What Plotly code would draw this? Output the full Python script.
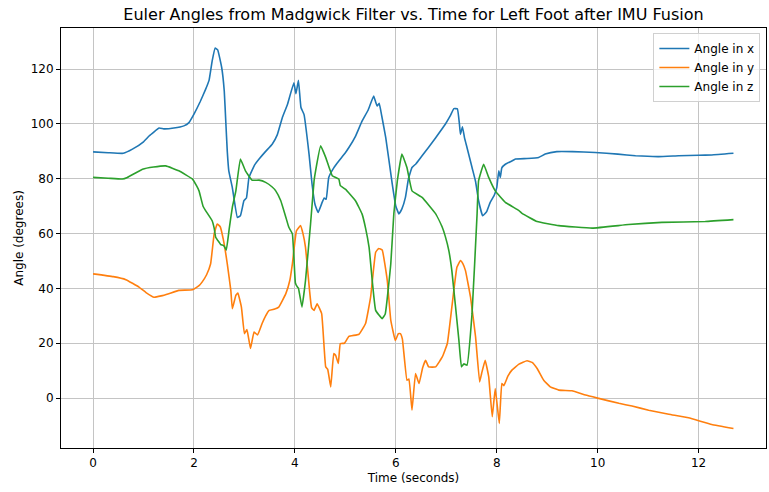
import plotly.graph_objects as go

# ---- data ----
t_x = [0, 0.3, 0.6, 0.78, 1.0, 1.11, 1.31, 1.4, 1.6, 1.8, 1.9, 2.0, 2.12, 2.23, 2.3, 2.36, 2.42, 2.47,
       2.55, 2.6, 2.63, 2.66, 2.69, 2.76, 2.86, 2.92, 2.99, 3.04, 3.09, 3.2, 3.29, 3.42, 3.55, 3.65,
       3.75, 3.85, 3.98, 4.02, 4.07, 4.12, 4.18, 4.28, 4.34, 4.40, 4.46, 4.54, 4.58, 4.62, 4.67, 4.77,
       4.87, 5.0, 5.07, 5.2, 5.33, 5.45, 5.56, 5.6, 5.63, 5.67, 5.72, 5.80, 5.93, 6.0, 6.06, 6.12,
       6.19, 6.25, 6.32, 6.4, 6.52, 6.65, 6.79, 6.98, 7.08, 7.15, 7.22, 7.26, 7.28, 7.32, 7.36, 7.41,
       7.51, 7.58, 7.64, 7.72, 7.8, 7.87, 7.95, 8.0, 8.04, 8.07, 8.1, 8.17, 8.3, 8.37, 8.6, 8.83,
       8.96, 9.19, 9.5, 9.95, 10.4, 10.75, 11.21, 11.6, 12.0, 12.26, 12.69]
angle_x = [89.8, 89.5, 89.3, 90.8, 93.5, 95.6, 98.5, 98.2, 98.5, 99.3, 100.5, 103.6, 108, 112.6, 116,
           122.9, 127.7, 127, 120.5, 112, 101, 90, 82.9, 76.8, 65.9, 66.5, 72, 73, 80.5, 85, 87.2,
           90, 92.6, 96, 102.3, 107, 115, 111, 115.9, 106, 103.5, 89, 78, 70.5, 67.7, 71.4, 73, 72.5,
           80.5, 84, 86.5, 89.5, 91.4, 95.5, 101, 105, 110.2, 108, 106.6, 107.5, 103, 95, 78, 70,
           67.2, 69, 73.2, 80, 84.1, 85.5, 88.4, 91.5, 95, 99.9, 103, 105.6, 105.5, 100, 96.2, 99,
           95, 91.4, 84.1, 79, 72, 66.5, 68, 71.4, 74, 76.8, 82.9, 80.5, 84, 85.3, 86.5, 87.2, 87.4,
           87.8, 89, 89.9, 89.9, 89.6, 89, 88.4, 88.1, 88.4, 88.6, 88.7, 89.3]

t_y = [0, 0.4, 0.65, 0.91, 1.05, 1.21, 1.35, 1.5, 1.7, 1.97, 2.1, 2.16, 2.25, 2.33, 2.40, 2.46, 2.52,
       2.58, 2.66, 2.73, 2.76, 2.83, 2.87, 2.94, 3.0, 3.05, 3.12, 3.19, 3.26, 3.35, 3.42, 3.49, 3.6,
       3.68, 3.82, 3.9, 3.95, 4.03, 4.11, 4.16, 4.21, 4.29, 4.33, 4.38, 4.44, 4.53, 4.61, 4.65, 4.71,
       4.77, 4.81, 4.86, 4.9, 4.98, 5.07, 5.27, 5.4, 5.50, 5.6, 5.66, 5.73, 5.83, 5.90, 5.99, 6.05,
       6.09, 6.13, 6.22, 6.26, 6.32, 6.39, 6.46, 6.53, 6.59, 6.65, 6.79, 6.92, 7.02, 7.11, 7.21, 7.28,
       7.33, 7.38, 7.48, 7.58, 7.66, 7.7, 7.77, 7.84, 7.91, 7.97, 8.05, 8.1, 8.14, 8.22, 8.30, 8.44,
       8.6, 8.7, 8.8, 8.93, 9.06, 9.23, 9.49, 9.76, 10.02, 10.42, 10.68, 11.01, 11.41, 11.8, 12.26,
       12.69]
angle_y = [45.3, 44.3, 43.2, 40.5, 38.5, 36.8, 37.3, 38.1, 39.3, 39.5, 41, 42.3, 45, 49, 59.9, 63.5,
           62.5, 58, 49, 39.3, 32.6, 37.5, 38.3, 33.2, 23.5, 25, 18.1, 24.1, 23, 27.2, 30, 32, 32.5,
           33.2, 38.1, 43, 49, 61, 62.9, 60, 55, 39.3, 33, 32, 34.4, 30.8, 11.4, 10.5, 4.1, 16.3, 15.5,
           12.6, 19.9, 20, 22.5, 23.3, 27.2, 36.8, 53.2, 54.6, 54, 42.9, 28.4, 21, 23.5, 23.5, 21.5,
           6.5, 7, -4.4, 9, 5.3, 11, 13.8, 11.4, 11.4, 15, 19.9, 33.2, 47.7, 50.2, 49, 46.5, 36.8,
           22.3, 5.9, 9, 13.8, 7.8, -6.8, 3.5, -9.2, 5.3, 4.5, 8, 10.2, 12.4, 13.6, 13, 10.8, 6.5,
           4.1, 2.9, 2.7, 1.1, -0.1, -1.9, -2.9, -4.4, -5.9, -7.2, -9.6, -11.1]

t_z = [0, 0.3, 0.58, 0.68, 0.98, 1.2, 1.44, 1.70, 1.97, 2.05, 2.10, 2.18, 2.23, 2.36, 2.40, 2.43, 2.5,
       2.53, 2.59, 2.64, 2.7, 2.76, 2.83, 2.92, 3.02, 3.15, 3.29, 3.42, 3.55, 3.62, 3.72, 3.82, 3.88,
       3.95, 4.01, 4.05, 4.07, 4.14, 4.21, 4.31, 4.38, 4.41, 4.51, 4.61, 4.74, 4.87, 4.9, 5.0, 5.2,
       5.33, 5.40, 5.47, 5.60, 5.73, 5.79, 5.9, 5.96, 6.03, 6.12, 6.22, 6.32, 6.52, 6.79, 6.92, 6.98,
       7.05, 7.11, 7.25, 7.30, 7.35, 7.41, 7.51, 7.61, 7.64, 7.74, 7.84, 7.97, 8.17, 8.44, 8.5, 8.80,
       9.23, 9.89, 10.61, 11.27, 12.13, 12.69]
angle_z = [80.5, 80.2, 79.9, 80.5, 83.5, 84.3, 84.7, 82.9, 79.9, 77.5, 75.6, 70, 68.4, 64.7, 62, 58.7,
           56.8, 56, 55.6, 54, 62, 69.6, 75.6, 87.2, 82.9, 79.5, 79.5, 78.7, 77, 75.6, 72, 66, 62.3,
           59.9, 42, 40.5, 40.1, 33.2, 42.9, 63.5, 79.3, 82.9, 92, 87.8, 81.1, 79.9, 77.5, 76.2, 72,
           67.2, 62, 55, 32, 29, 30.7, 49, 67.2, 79.3, 89, 84.1, 75.6, 73.2, 67.2, 62.3, 59, 53.8,
           46.5, 21, 11.4, 12.5, 12, 30.8, 67.2, 79.3, 85.3, 80.5, 75.6, 71.4, 68.4, 67.4, 64.4,
           62.9, 62, 63.3, 64.1, 64.4, 65.1]

series_names = ["Angle in x", "Angle in y", "Angle in z"]
colors = ["#1f77b4", "#ff7f0e", "#2ca02c"]
x_ticks = [0, 2, 4, 6, 8, 10, 12]
y_ticks = [0, 20, 40, 60, 80, 100, 120]

FONT = "DejaVu Sans, Liberation Sans, sans-serif"

fig = go.Figure()
for tt, vv, name, c in zip([t_x, t_y, t_z], [angle_x, angle_y, angle_z], series_names, colors):
    fig.add_trace(go.Scatter(x=tt, y=vv, mode="lines", name=name,
                             line=dict(color=c, width=1.6, shape="spline", smoothing=0.3)))

axis_common = dict(showline=True, linecolor="black", linewidth=1, mirror=True,
                   ticks="outside", ticklen=4, tickcolor="black", tickwidth=1,
                   showgrid=True, gridcolor="#c4c4c4", gridwidth=1, zeroline=False,
                   tickfont=dict(family=FONT, size=12, color="black"))

fig.update_layout(
    width=769, height=492,
    margin=dict(l=61, r=3, t=28, b=44),
    paper_bgcolor="white", plot_bgcolor="white",
    font=dict(family=FONT, color="black"),
    title=dict(text="Euler Angles from Madgwick Filter vs. Time for Left Foot after IMU Fusion",
               x=0.5, xref="paper", xanchor="center", y=1 - 14 / 492, yanchor="middle",
               font=dict(family=FONT, size=16, color="black")),
    xaxis=dict(range=[-0.635, 13.335], tickvals=x_ticks,
               title=dict(text="Time (seconds)", font=dict(family=FONT, size=12), standoff=4),
               **axis_common),
    yaxis=dict(range=[-18.2, 135.0], tickvals=y_ticks,
               title=dict(text="Angle (degrees)", font=dict(family=FONT, size=12), standoff=4),
               **axis_common),
    legend=dict(x=0.992, y=0.988, xanchor="right", yanchor="top",
                bgcolor="rgba(255,255,255,0.8)", bordercolor="#d0d0d0", borderwidth=1,
                font=dict(family=FONT, size=12, color="black"), tracegroupgap=0,
                itemwidth=30),
    showlegend=True,
)

fig.write_html("out.html")
